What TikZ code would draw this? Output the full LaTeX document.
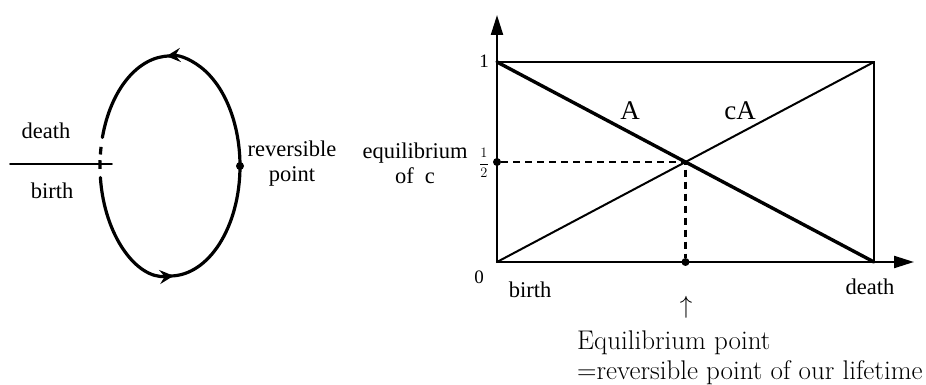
\documentclass[tikz,border=0pt]{standalone}
\usepackage{fontspec}
\newfontfamily\timesfont{Liberation Serif}
\usetikzlibrary{arrows.meta}

\begin{document}
\begin{tikzpicture}[x=1pt, y=1pt, line cap=round,
		% Styles
		loop line/.style={line width=3.2pt},
		axis line/.style={line width=2.2pt, -{Triangle[length=20pt, width=12pt]}},
		frame line/.style={line width=2pt},
		main line/.style={line width=3.4pt},
		help line/.style={line width=2.2pt, dash pattern=on 7pt off 5pt, line cap=butt},
		loop tip/.style={-{Stealth[length=14pt, width=14pt, inset=5pt]}},
		label text/.style={font=\timesfont\fontsize{22.5}{25}\selectfont, inner sep=0pt},
		big text/.style={font=\timesfont\fontsize{27}{30}\selectfont, inner sep=0pt},
		tick text/.style={font=\timesfont\fontsize{19}{21}\selectfont, inner sep=0pt},
		note text/.style={font=\fontsize{27}{29.5}\selectfont, inner sep=0pt, align=left},
		point dot/.style={circle, fill=black, inner sep=0pt, minimum size=8pt}
		]
		
		\useasboundingbox (0, 0) rectangle (926, 385);
		
		% Life cycle on the left
		\coordinate (centre) at (170, 219);
		\draw[loop line, loop tip] (centre) ++(0:70 and 110) coordinate (rev)
			arc [start angle=0, end angle=93, x radius=70, y radius=110];
		\draw[loop line] (centre) ++(90:70 and 110)
			arc [start angle=90, end angle=165, x radius=70, y radius=110];
		\draw[loop line, loop tip] (centre) ++(186:70 and 110)
			arc [start angle=186, end angle=273, x radius=70, y radius=110];
		\draw[loop line] (centre) ++(270:70 and 110)
			arc [start angle=270, end angle=360, x radius=70, y radius=110];
		% the broken part where the line crosses
		\draw[loop line, line cap=butt] (centre) ++(170:70 and 110)
			arc [start angle=170, end angle=174, x radius=70, y radius=110];
		\draw[loop line, line cap=butt] (centre) ++(177:70 and 110)
			arc [start angle=177, end angle=181.5, x radius=70, y radius=110];
		
		\coordinate (lineL) at (10, 221);
		\coordinate (lineR) at (112, 221);
		\draw[line width=1.6pt] (lineL) -- (lineR);
		
		\node[point dot] (revdot) at (rev) {};
		\node[label text] (deathL) at (46, 254) {death};
		\node[label text] (birthL) at (52, 194) {birth};
		\node[label text, align=center] (revL) at (292, 221) {reversible\\point};
		
		% The graphic on the right
		\coordinate (O) at (497, 123);
		\coordinate (top) at (497, 323);
		\coordinate (topR) at (874, 323);
		\coordinate (botR) at (874, 123);
		\coordinate (yend) at (497, 370);
		\coordinate (xend) at (914, 123);
		
		\draw[axis line] (O) -- (yend);   % y-axis
		\draw[axis line] (O) -- (xend);   % x-axis
		\draw[frame line] (top) -- (topR) -- (botR);
		
		\draw[main line] (top) -- (botR);          % A
		\draw[frame line] (O) -- (topR);           % cA
		
		\coordinate (eq) at (685.5, 223);
		\node[point dot] (half) at (O |- eq) {};
		\node[point dot] (eqx) at (eq |- O) {};
		\draw[help line] (half) -- (eq) -- (eqx);
		
		\node[tick text] (one) at (484, 324) {1};
		\node[tick text] (zero) at (479, 108) {0};
		\node[inner sep=0pt, font=\fontsize{14}{16}\selectfont] (halfL) at (484, 222) {$\displaystyle\frac{1}{2}$};
		
		\node[big text] (Alabel) at (630, 274) {A};
		\node[big text] (cAlabel) at (740, 274) {cA};
		\node[label text, align=center] (eqL) at (415, 222) {equilibrium\\of~~c};
		\node[label text] (birthR) at (530, 95) {birth};
		\node[label text] (deathR) at (870, 98) {death};
		
		% Equilibrium point explained
		\node[note text] (upArrow) at (686, 78) {$\uparrow$};
		\node[note text, anchor=west] (note) at (577, 27) {Equilibrium point\\=reversible point of our lifetime};
		
	\end{tikzpicture}
\end{document}
